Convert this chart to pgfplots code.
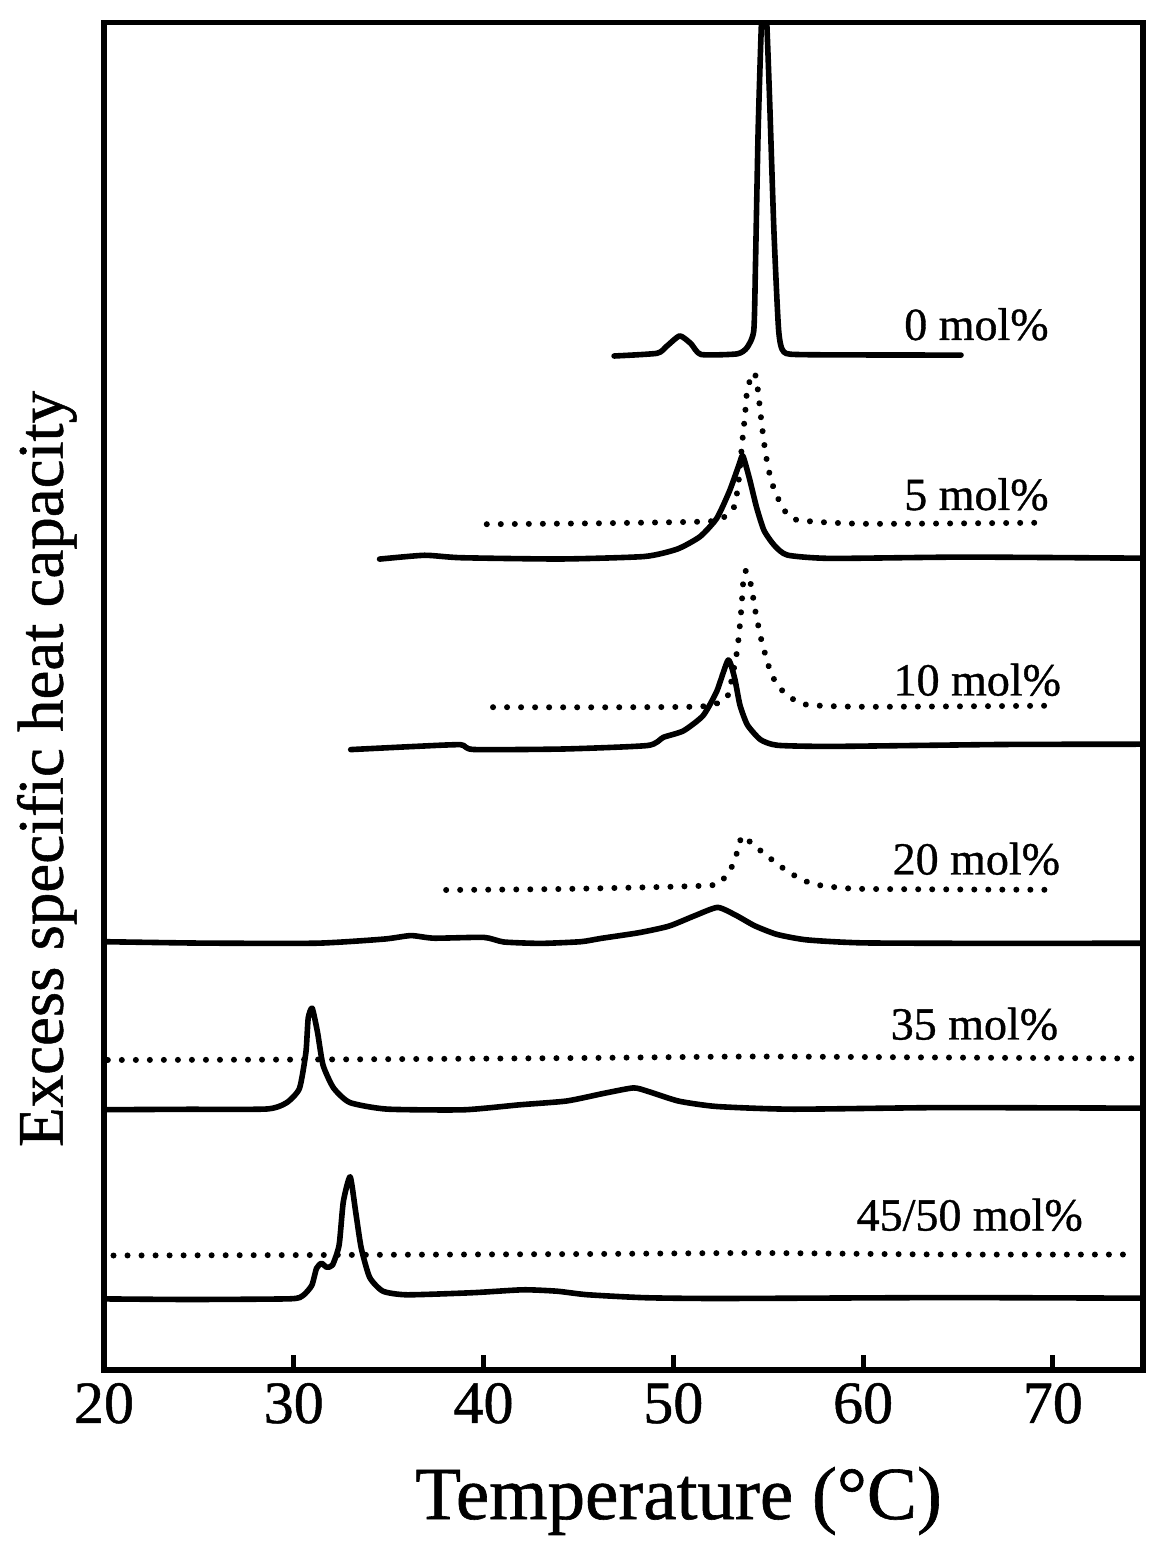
\documentclass[border=0pt]{standalone}
\usepackage{fontspec}
\setmainfont{Liberation Serif}[FakeBold=0.8]
\usepackage{pgfplots}
\pgfplotsset{compat=1.18}
\tikzset{curve label/.style={anchor=base east, inner sep=0pt,
    font=\fontsize{23}{28}\selectfont}}

\begin{document}
\begin{tikzpicture}
\begin{axis}[
  at={(0,0)}, anchor=south west,
  scale only axis, width=519.5pt, height=673.75pt,
  xmin=20, xmax=74.75, ymin=0, ymax=1347.5,
  xtick={20,30,...,70}, ytick=\empty,
  xtick pos=bottom, tick align=inside,
  major tick length=7.5pt,
  tick style={black, line width=2.5pt},
  axis line style={line width=2.6pt, line cap=rect},
  /pgf/number format/assume math mode=true,
  xticklabel style={font=\fontsize{30}{36}\selectfont, yshift=-3pt},
  xlabel={Temperature (\textdegree C)},
  xlabel style={font=\fontsize{37.5}{45}\selectfont,
    at={(axis description cs:0.553,-0.1106)}, anchor=base},
  ylabel={Excess specific heat capacity},
  ylabel style={font=\fontsize{32.5}{38}\selectfont,
    at={(axis description cs:-0.055,0.446)}, anchor=center},
  solid curve/.style={black, line width=2.8pt, line join=round, line cap=round,
    smooth, tension=0.35},
  dot curve/.style={black, line width=3pt, line cap=round, line join=round,
    dash pattern=on 0.01pt off 7pt, smooth, tension=0.35},
]

% 0 mol%
\addplot[solid curve] coordinates {
 (46.88,1014) (49.14,1016.7) (49.66,1023.9) (50.34,1034.1) (50.93,1026.3)
 (51.46,1015.5) (53.36,1016.1) (53.88,1022.3) (54.24,1039.4) (54.33,1105.4)
 (54.47,1239.5) (54.64,1345) (54.72,1356) (54.90,1356) (55.07,1272.7)
 (55.30,1139.8) (55.55,1039.8) (55.83,1017.9) (57.04,1015.3) (65.16,1014.9)};

% 5 mol%
\addplot[dot curve] coordinates {
 (40.17,845.8) (46.0,846.7) (51.76,848.5) (52.6,852) (53.18,862) (53.42,885.1)
 (53.64,929.2) (53.78,955.2) (53.91,982.3) (54.27,997.4) (54.44,982.4)
 (54.68,942.5) (54.87,915.6) (55.15,889.6) (55.43,875.7) (55.81,860.8)
 (56.51,850.1) (60.04,846.2) (69.58,847.3)};
\addplot[solid curve] coordinates {
 (34.52,810.9) (36.89,814.7) (38.78,812.3) (44.05,811) (48.48,813.5)
 (50.22,821) (51.41,833.4) (52.29,851.7) (52.96,878.9) (53.46,905.1)
 (53.66,914.2) (54.0,892.3) (54.39,862.4) (54.78,839.5) (55.32,824.7)
 (56.01,814.9) (58.28,811.6) (65.34,812.9) (74.75,811.8)};

% 10 mol%
\addplot[dot curve] coordinates {
 (40.5,662.8) (46.13,662.7) (51.25,663.3) (52.30,666.6) (52.88,674.8)
 (53.36,719) (53.59,762.1) (53.67,785.1) (53.81,799.2) (54.09,785.3)
 (54.32,759.3) (54.61,732.4) (54.89,712.5) (55.17,695.6) (55.58,682.7)
 (56.14,672.9) (57.04,665.2) (60.21,663.2) (70.01,664.3)};
\addplot[solid curve] coordinates {
 (33.0,620.4) (36.31,623.5) (38.79,625.3) (39.48,620.5) (44.22,621)
 (48.65,624.5) (49.48,632.7) (50.53,639.1) (51.57,654.4) (52.29,678.7)
 (52.89,709.9) (53.23,692) (53.51,665) (53.90,645.2) (54.59,630.4)
 (55.49,624.7) (58.45,623.6) (67.25,625.5) (74.75,625.8)};

% 20 mol%
\addplot[dot curve] coordinates {
 (38.03,480) (44.40,481.1) (51.88,484.5) (52.67,491.7) (53.13,504.9)
 (53.43,522) (53.63,534) (54.22,525.2) (54.92,514.4) (55.72,502.7)
 (56.52,493) (57.31,486.2) (58.21,483.5) (60.01,481.1) (69.65,480.2)};
\addplot[solid curve] coordinates {
 (20,428.3) (25.11,426.9) (31.22,426.8) (34.75,430.9) (36.17,434.4)
 (37.39,431.8) (40.02,432.6) (41.07,428) (43.02,426.6) (45.13,428.3)
 (46.19,431.6) (48.19,437.3) (49.76,443.8) (51.12,454.2) (52.33,462.6)
 (53.28,454.9) (54.29,444.2) (55.46,435.6) (57.04,430.1) (60.05,427.1)
 (67.90,426.6) (74.75,426.8)};

% 35 mol%
\addplot[dot curve] coordinates {
 (20.2,310) (31.3,310.5) (45.2,312) (54.2,313.5) (64.1,312.5) (74.2,311.5)};
\addplot[solid curve] coordinates {
 (20,260.3) (24.36,260.7) (28.58,261) (29.63,267.4) (30.30,281.6)
 (30.64,317.7) (30.76,351.8) (30.97,361.8) (31.25,337.9) (31.54,305)
 (32.09,282.2) (32.95,267.5) (34.90,260.9) (38.96,260.2) (41.91,265.2)
 (44.38,269) (46.33,276.6) (47.90,282.1) (48.70,278.4) (50.28,268.9)
 (52.29,263.5) (56.25,260.8) (64.15,262.4) (74.75,261.8)};

% 45/50 mol%
\addplot[dot curve] coordinates {
 (20.5,114.5) (31.5,115) (45.4,116) (54.4,117) (64.3,115.5) (74.4,115.5)};
\addplot[solid curve] coordinates {
 (20,71.1) (24.53,70.5) (29.80,71.2) (30.48,74.4) (30.95,84.6) (31.20,101.7)
 (31.46,106.7) (31.73,102.8) (32.04,104.9) (32.39,125) (32.61,168.1)
 (32.97,193.2) (33.26,158.4) (33.55,122.4) (34.0,92.6) (34.70,78.8)
 (35.96,75.2) (39.44,77.3) (42.08,80.2) (43.87,78.8) (45.45,75.3)
 (48.50,72.3) (52.46,71.5) (64.31,72.4) (74.75,71.8)};

% curve labels
\node[curve label] at (axis cs:69.8,1030) {0 mol\%};
\node[curve label] at (axis cs:69.8,860) {5 mol\%};
\node[curve label] at (axis cs:70.45,674.5) {10 mol\%};
\node[curve label] at (axis cs:70.4,495.5) {20 mol\%};
\node[curve label] at (axis cs:70.3,330.5) {35 mol\%};
\node[curve label] at (axis cs:71.6,139.5) {45/50 mol\%};
\end{axis}
\pgfresetboundingbox
\path (-52pt,-86pt) rectangle (522.5pt,685pt);
\end{tikzpicture}
\end{document}
